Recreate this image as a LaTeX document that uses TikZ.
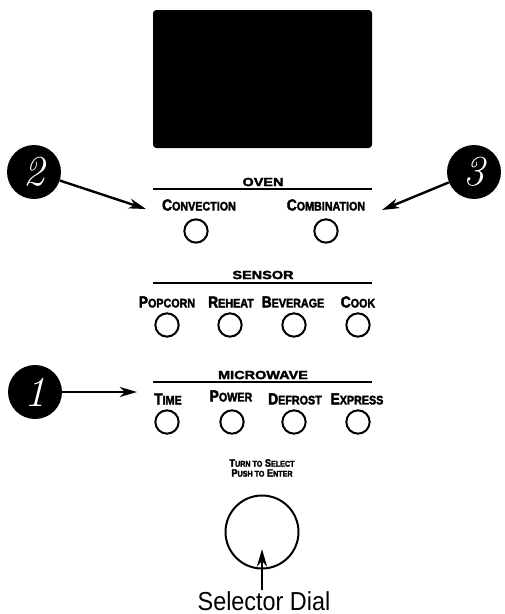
\documentclass[tikz,border=0pt]{standalone}
\usepackage{fontspec}
\usetikzlibrary{arrows.meta}
\newfontfamily\keyfont{Liberation Sans}[FakeStretch=0.86,FakeBold=2.5]
\newfontfamily\grpfont{Liberation Sans}[FakeStretch=1.22,FakeBold=2.5]
\newfontfamily\capfont{Liberation Sans}[FakeStretch=0.9]
\newcommand\smc[2]{#1\scalebox{0.78}{#2}}

\begin{document}
\begin{tikzpicture}[x=0.75pt,y=-0.75pt,
	badge/.style={circle,fill=black,minimum size=40.5pt,inner sep=0pt,text=white,font=\fontsize{32}{32}\selectfont\itshape},
	key/.style={circle,draw,line width=1.5pt,minimum size=17.5pt,inner sep=0pt},
	keylabel/.style={font=\keyfont\bfseries\fontsize{12}{12}\selectfont,inner sep=0pt},
	dialtext/.style={font=\keyfont\bfseries\fontsize{8}{8}\selectfont,inner sep=0pt},
	grplabel/.style={font=\grpfont\bfseries\fontsize{8.9}{9}\selectfont,inner sep=0pt},
	grpline/.style={line width=0.8pt},
	callout/.style={line width=1.8pt,-{Stealth[length=13pt,width=7.5pt,inset=4pt]}}]
			%%%%% START %%%%%
			\useasboundingbox (0,0) rectangle (504,614);
			
			% display
			\fill[rounded corners=2.5pt] (153,10) rectangle (372,148);
			
			% oven
			\node[grplabel] (oven) at (263,182) {OVEN};
			\draw[grpline] (153,189) -- (372,189);
			\node[keylabel] (conv-lbl) at (199,205) {\smc{C}{ONVECTION}};
			\node[keylabel] (comb-lbl) at (326,205) {\smc{C}{OMBINATION}};
			\node[key] (conv) at (196,231) {};
			\node[key] (comb) at (326,231) {};
			
			% sensor
			\node[grplabel] (sensor) at (263,275) {SENSOR};
			\draw[grpline] (153,283) -- (372,283);
			\node[keylabel] (popc-lbl) at (167,302) {\smc{P}{OPCORN}};
			\node[keylabel] (reht-lbl) at (231,302) {\smc{R}{EHEAT}};
			\node[keylabel] (bevg-lbl) at (293,302) {\smc{B}{EVERAGE}};
			\node[keylabel] (cook-lbl) at (358,302) {\smc{C}{OOK}};
			\node[key] (popc) at (167,325) {};
			\node[key] (reht) at (230,325) {};
			\node[key] (bevg) at (294,325) {};
			\node[key] (cook) at (358,325) {};
			
			% microwave
			\node[grplabel] (micro) at (263,375) {MICROWAVE};
			\draw[grpline] (153,382) -- (372,382);
			\node[keylabel] (time-lbl) at (168,399) {\smc{T}{IME}};
			\node[keylabel] (powr-lbl) at (231,396) {\smc{P}{OWER}};
			\node[keylabel] (defr-lbl) at (295,399) {\smc{D}{EFROST}};
			\node[keylabel] (expr-lbl) at (357,399) {\smc{E}{XPRESS}};
			\node[key] (time) at (167,422) {};
			\node[key] (powr) at (232,422) {};
			\node[key] (defr) at (294,422) {};
			\node[key] (expr) at (358,422) {};
			
			% selector dial
			\node[dialtext] (turn) at (262,463) {\smc{T}{URN TO} \smc{S}{ELECT}};
			\node[dialtext] (push) at (262,473) {\smc{P}{USH TO} \smc{E}{NTER}};
			\node[circle,draw,line width=1.5pt,minimum size=54.75pt,inner sep=0pt] (dial) at (262,532) {};
			\node[font=\capfont\fontsize{19.5}{20}\selectfont,inner sep=1pt] (dial-cap) at (264,601) {Selector Dial};
			\coordinate (dial-tip) at (262,549);
			\draw[callout] (dial-cap.north -| dial-tip) -- (dial-tip);
			
			% callouts
			\node[badge] (badge-one) at (35,392) {1};
			\node[badge] (badge-two) at (34,172) {2};
			\node[badge] (badge-three) at (474,172) {3};
			\coordinate (one-tip) at (137,392);
			\coordinate (two-tip) at (146,209);
			\coordinate (three-tip) at (382,210);
			\draw[callout] (badge-one) -- (one-tip);
			\draw[callout] (badge-two) -- (two-tip);
			\draw[callout] (badge-three) -- (three-tip);
			%%%%% END %%%%%
\end{tikzpicture}
\end{document}
